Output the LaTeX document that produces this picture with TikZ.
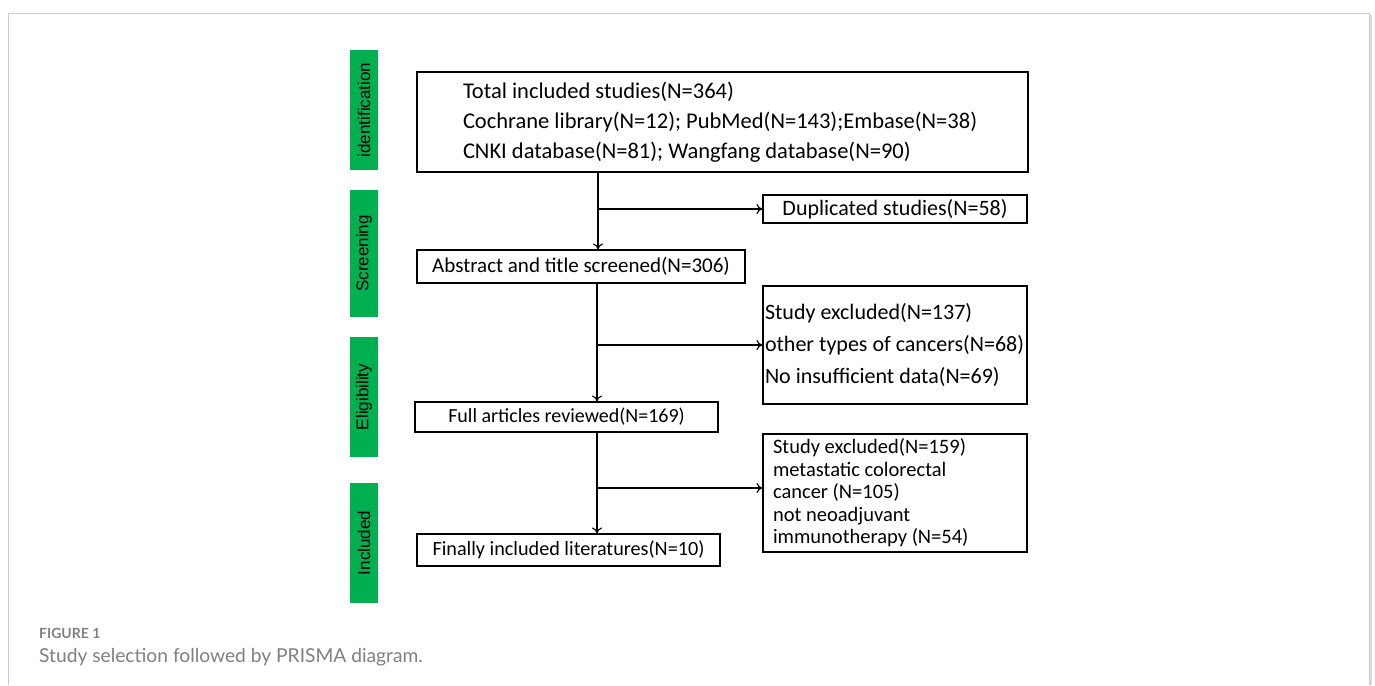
\documentclass[tikz,border=0pt]{standalone}
\usepackage{fontspec}
\setmainfont{Carlito}
\newfontfamily\labfont{Liberation Sans}
\newfontfamily\capfont{Lato}
\usetikzlibrary{arrows.meta}
\definecolor{stagegreen}{HTML}{00B050}
\definecolor{framegray}{HTML}{CCCCCC}
\definecolor{capgray}{HTML}{808080}
\tikzset{
  stage/.style={fill=stagegreen, draw=none, minimum height=28pt, inner sep=0pt, rotate=90,
    font=\labfont\fontsize{17}{17}\selectfont, text=black},
  box/.style={draw=black, line width=1.1pt, inner sep=0pt, font=\fontsize{21}{30}\selectfont},
  arr/.style={draw=black, line width=1.1pt, -{To[length=6pt,width=10pt]}},
  ln/.style={draw=black, line width=1.1pt}
}
\begin{document}
\begin{tikzpicture}[x=1pt,y=-1pt]
\useasboundingbox (0,0) rectangle (1375,685);
\fill[white] (0,0) rectangle (1375,685);
% frame
\draw[framegray, line width=1pt] (8,685) -- (8,14) -- (1369,14) -- (1369,685);
\draw[framegray!70, line width=1.2pt] (1371,15) -- (1371,685);
% stage labels
\node[stage, minimum width=120pt] (s1) at (364,110) {identification};
\node[stage, minimum width=127pt] (s2) at (364,253.5) {Screening};
\node[stage, minimum width=120pt] (s3) at (364,397) {Eligibility};
\node[stage, minimum width=120pt] (s4) at (364,543) {Included};
% boxes
\node[box, minimum width=611pt, minimum height=100pt, text width=519pt, align=flush left, font=\fontsize{22.5}{30}\selectfont] (tot) at (722.5,122)
  {Total included studies(N=364)\\Cochrane library(N=12); PubMed(N=143);Embase(N=38)\\CNKI database(N=81); Wangfang database(N=90)};
\node[box, minimum width=264pt, minimum height=28pt, font=\fontsize{22}{22}\selectfont] (dup) at (895,209) {Duplicated studies(N=58)};
\node[box, minimum width=328pt, minimum height=33pt] (abs) at (581,266.5) {Abstract and title screened(N=306)};
\node[box, minimum width=264pt, minimum height=118pt, text width=260pt, align=flush left, font=\fontsize{22}{32}\selectfont] (exc1) at (895,345)
  {Study excluded(N=137)\\other types of cancers(N=68)\\No insufficient data(N=69)};
\node[box, minimum width=303pt, minimum height=30pt, font=\fontsize{20}{20}\selectfont] (full) at (566.5,417) {Full articles reviewed(N=169)};
\node[box, minimum width=264pt, minimum height=118pt, text width=244pt, align=flush left, font=\fontsize{20.5}{22.5}\selectfont] (exc2) at (895,493)
  {Study excluded(N=159)\\metastatic colorectal\\cancer (N=105)\\not neoadjuvant\\immunotherapy (N=54)};
\node[box, minimum width=303pt, minimum height=32pt, font=\fontsize{20.2}{20.2}\selectfont] (fin) at (568.5,550) {Finally included literatures(N=10)};
% connectors
\coordinate (c1) at (598,0);
\coordinate (c2) at (597,0);
\draw[arr] (tot.south -| c1) -- (abs.north -| c1);
\draw[arr] (c1 |- dup.west) -- (dup.west);
\draw[arr] (abs.south -| c2) -- (full.north -| c2);
\draw[arr] (c2 |- exc1.west) -- (exc1.west);
\draw[arr] (full.south -| c2) -- (fin.north -| c2);
\draw[arr] ([yshift=5pt]exc2.west -| c2) -- ([yshift=5pt]exc2.west);
% caption
\node[anchor=base west, inner sep=0pt, text=capgray, font=\capfont\bfseries\fontsize{14}{14}\selectfont] (fig) at (39,638) {FIGURE 1};
\node[anchor=base west, inner sep=0pt, text=capgray, font=\capfont\fontsize{19.2}{19.2}\selectfont] (capt) at (39,662) {Study selection followed by PRISMA diagram.};
\end{tikzpicture}
\end{document}
